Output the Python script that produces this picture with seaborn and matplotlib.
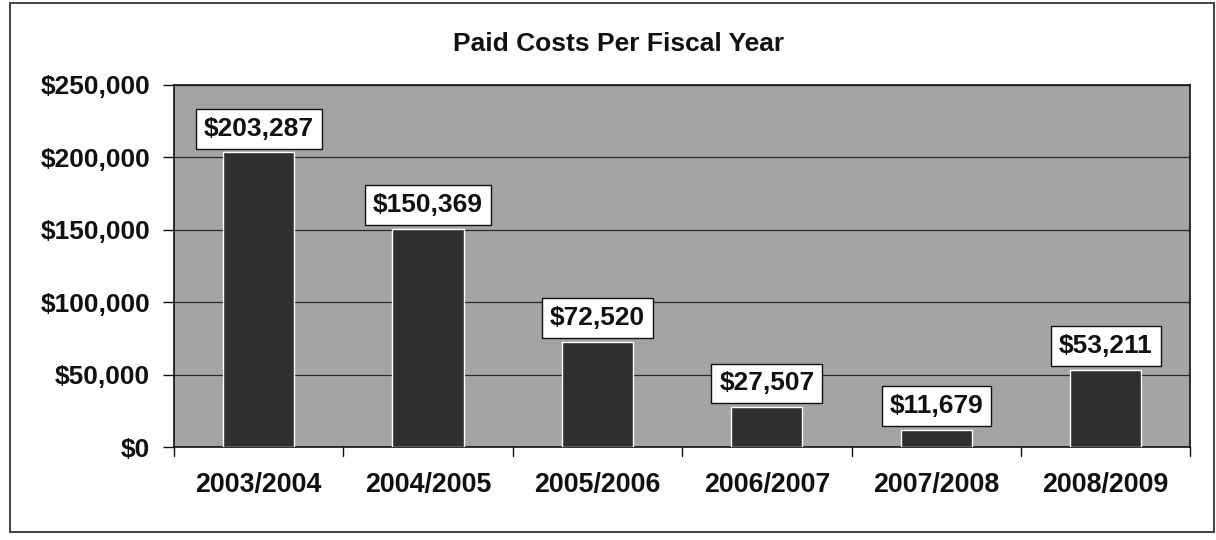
import matplotlib
matplotlib.use("Agg")
import matplotlib.pyplot as plt
import seaborn as sns
import pandas as pd
from matplotlib.patches import Rectangle
from matplotlib.ticker import FuncFormatter

years = ["2003/2004", "2004/2005", "2005/2006", "2006/2007", "2007/2008", "2008/2009"]
costs = [203287, 150369, 72520, 27507, 11679, 53211]
labels = ["$203,287", "$150,369", "$72,520", "$27,507", "$11,679", "$53,211"]
yticks = [0, 50000, 100000, 150000, 200000, 250000]

sns.set_theme(style="white")
plt.rcParams['font.family'] = ['Liberation Sans', 'DejaVu Sans']
plt.rcParams['font.weight'] = 'bold'

df = pd.DataFrame({"year": years, "cost": costs})

fig = plt.figure(figsize=(12.16, 5.4), dpi=100)
ax = fig.add_axes([0.143, 0.172, 0.836, 0.671])
ax.set_facecolor("#a4a4a4")

sns.barplot(data=df, x="year", y="cost", color="#303030", saturation=1,
            width=0.42, ax=ax, zorder=3)

ax.set_ylim(0, 250000)
ax.set_yticks(yticks)
ax.yaxis.set_major_formatter(FuncFormatter(lambda v, p: "${:,.0f}".format(v)))
ax.grid(axis="y", color="#2a2a2a", linewidth=0.9, zorder=1)
ax.set_axisbelow(True)
ax.set_xlabel("")
ax.set_ylabel("")
for s in ["top", "right", "left", "bottom"]:
    ax.spines[s].set_color("#111111")
    ax.spines[s].set_linewidth(1.2)

ax.tick_params(axis="y", length=8, width=1.0, color="#111111", labelsize=19, pad=9, direction="out", left=True)
ax.tick_params(axis="x", length=0, labelsize=19.3, pad=18)
for t in ax.get_yticklabels() + ax.get_xticklabels():
    t.set_fontweight("bold")
    t.set_color("#111111")

# category separator ticks on x-axis
for i in range(len(years) + 1):
    ax.plot([i - 0.5, i - 0.5], [0, -6000], color="#111111", lw=1.0, clip_on=False)
ax.set_xlim(-0.5, len(years) - 0.5)

for i, (v, lab) in enumerate(zip(costs, labels)):
    ax.annotate(lab, xy=(i, v), xytext=(0, 8.5), textcoords="offset points",
                ha="center", va="bottom", fontsize=19, fontweight="bold", color="#111111",
                bbox=dict(boxstyle="square,pad=0.3", facecolor="white", edgecolor="#111111", linewidth=1.0),
                zorder=5)

fig.text(0.509, 0.918, "Paid Costs Per Fiscal Year", ha="center", va="center",
         fontsize=19, fontweight="bold", color="#111111")

fig.patches.append(Rectangle((0.008, 0.015), 0.99, 0.98, transform=fig.transFigure,
                             fill=False, edgecolor="#222222", linewidth=1.2))

fig.savefig("out.png", dpi=100)
